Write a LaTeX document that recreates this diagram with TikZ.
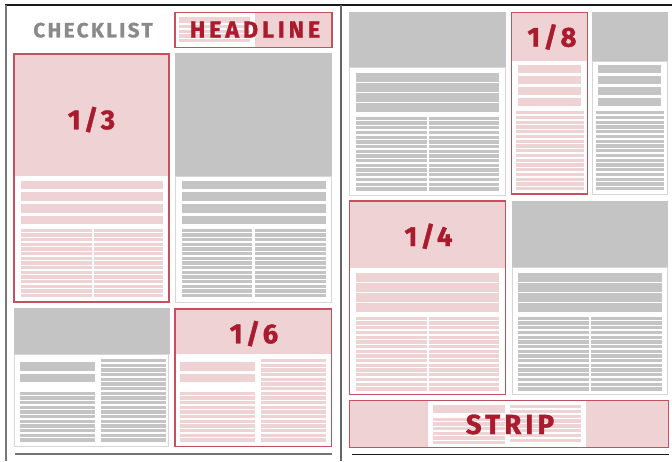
\documentclass[tikz,border=0pt]{standalone}
\usepackage{fontspec}
\newfontfamily\lblfont[FakeBold=1.2]{Fira Sans}
\definecolor{pinkf}{HTML}{EED2D4}
\definecolor{redt}{HTML}{A91B2D}
\definecolor{redb}{HTML}{C5505E}
\definecolor{grayf}{HTML}{C4C4C4}
\definecolor{grayb}{HTML}{D6D6D6}
\definecolor{grayt}{HTML}{8A8A8A}
\newcommand\txtlines[6]{% x1 x2 y1 period count color
  \foreach \i in {1,...,#5}{\fill[#6] (#1,{#3+(\i-1)*#4}) rectangle (#2,{#3+(\i-1)*#4+0.71*#4});}}
\newcommand\hdbars[6]{% x1 x2 y1 period height color (4 bars)
  \foreach \i in {1,...,4}{\fill[#6] (#1,{#3+(\i-1)*#4}) rectangle (#2,{#3+(\i-1)*#4+#5});}}
\tikzset{
  redframe/.style={draw=redb,line width=1.1pt},
  grayframe/.style={draw=grayb,line width=0.9pt,fill=white},
  biglbl/.style={anchor=base,inner sep=0pt,text=redt,font=\lblfont\bfseries\fontsize{27.6}{30}\selectfont\addfontfeature{LetterSpace=12}},
}
\begin{document}
\begin{tikzpicture}[x=1pt,y=-1pt]
\useasboundingbox (0,0) rectangle (672,461);
\fill[white] (0,0) rectangle (672,461);
% page frames
\draw[line width=1.4pt,black!90] (5,5) -- (672,5);
\draw[line width=2pt,gray!95!black] (6,5) -- (6,461);
\draw[line width=1.5pt,black!60] (341,5) -- (341,461);
\draw[line width=2pt,black!55] (15,453.7) -- (332,453.7);
\draw[line width=1.4pt,black!90] (352,454.7) -- (668.7,454.7);

% CHECKLIST
\node[anchor=base,inner sep=0pt,text=grayt,font=\lblfont\bfseries\fontsize{20.5}{22}\selectfont\addfontfeature{LetterSpace=12}] (checklist) at (93,37.3) {CHECKLIST};

% HEADLINE box
\fill[white] (175,12.5) rectangle (332,47.5);
\fill[pinkf] (179,16.5) rectangle (250,22.5);
\txtlines{179}{250}{25.2}{4.6}{4}{pinkf}
\fill[pinkf] (255,12.5) rectangle (332,47.5);
\draw[redframe] (175,12.5) rectangle (332,47.5);
\node[anchor=base,inner sep=0pt,text=redt,font=\lblfont\bfseries\fontsize{23.2}{25}\selectfont\addfontfeature{LetterSpace=17}] (headline) at (255,37.7) {HEADLINE};

% 1/3 module
\fill[pinkf] (14,54) rectangle (169,176);
\hdbars{21}{163}{180.7}{11.6}{8.6}{pinkf}
\txtlines{21}{92}{228.7}{4.67}{15}{pinkf}
\txtlines{94.3}{163}{228.7}{4.67}{15}{pinkf}
\draw[redframe] (14,54) rectangle (169,302);
\node[biglbl] (third) at (91.5,129.3) {1/3};

% gray module top right (left page)
\fill[grayf] (175,53.3) rectangle (332,176);
\draw[grayframe] (175.4,176) rectangle (331.6,302.3);
\hdbars{181.7}{325.7}{180.7}{11.6}{8.6}{grayf}
\txtlines{181.7}{252.3}{228.7}{4.67}{15}{grayf}
\txtlines{254.7}{325.7}{228.7}{4.67}{15}{grayf}

% bottom-left gray module
\fill[grayf] (14,308) rectangle (170,354);
\draw[grayframe] (14.4,354) rectangle (168.7,446.5);
\fill[grayf] (20,362) rectangle (95,370.7);
\fill[grayf] (20,373.7) rectangle (95,382.3);
\txtlines{20}{95}{391.7}{4.67}{11}{grayf}
\txtlines{100.7}{166}{359}{4.67}{18}{grayf}

% 1/6 module
\fill[pinkf] (175,309) rectangle (331.3,354);
\fill[pinkf] (180,362) rectangle (255.3,370.7);
\fill[pinkf] (180,373.7) rectangle (255.3,382.3);
\txtlines{180}{255.3}{391.7}{4.67}{11}{pinkf}
\txtlines{261}{326}{359}{4.67}{18}{pinkf}
\draw[redframe] (175,309) rectangle (331.3,446.5);
\node[biglbl] (sixth) at (254,343.3) {1/6};

% right page: module A
\fill[grayf] (349.3,12.3) rectangle (505.7,67.7);
\draw[grayframe] (349.7,67.7) rectangle (505.3,195);
\hdbars{356}{499}{72.7}{10.1}{9}{grayf}
\txtlines{356}{426.7}{116.7}{4.7}{16}{grayf}
\txtlines{428.7}{499}{116.7}{4.7}{16}{grayf}

% 1/8 module
\fill[pinkf] (511.7,12.7) rectangle (587.7,61);
\hdbars{517.7}{581}{65}{10.9}{8.3}{pinkf}
\txtlines{515.7}{584.3}{111}{4.75}{17}{pinkf}
\draw[redframe] (511.7,12.7) rectangle (587.7,194);
\node[biglbl] (eighth) at (552,46.7) {1/8};

% module C
\fill[grayf] (592,12.3) rectangle (668.3,61);
\draw[grayframe] (592.4,61) rectangle (667.9,194);
\hdbars{597.7}{661}{65}{10.9}{8.3}{grayf}
\txtlines{595.7}{664.3}{111}{4.75}{17}{grayf}

% 1/4 module
\fill[pinkf] (349.3,201) rectangle (505.7,267.7);
\hdbars{356}{499}{272.7}{10}{9}{pinkf}
\txtlines{356}{426.7}{316.7}{4.7}{16}{pinkf}
\txtlines{428.7}{499}{316.7}{4.7}{16}{pinkf}
\draw[redframe] (349.3,201) rectangle (505.7,394.3);
\node[biglbl] (quarter) at (428.5,246) {1/4};

% module D
\fill[grayf] (511.7,201) rectangle (668.3,267.7);
\draw[grayframe] (512.1,267.7) rectangle (667.9,394);
\hdbars{518.3}{661.7}{272.7}{10}{9}{grayf}
\txtlines{518.3}{589}{316.7}{4.7}{16}{grayf}
\txtlines{591}{661.7}{316.7}{4.7}{16}{grayf}

% STRIP
\fill[pinkf] (349.3,400.3) rectangle (668.3,447.5);
\fill[white] (428.3,401) rectangle (586,447);
\fill[pinkf] (433.3,405) rectangle (505,413.3);
\txtlines{433.3}{505}{417.7}{4.67}{6}{pinkf}
\txtlines{510}{581}{405}{4.8}{8}{pinkf}
\draw[redframe] (349.3,400.3) rectangle (668.3,447.5);
\node[biglbl,font=\lblfont\bfseries\fontsize{27.6}{30}\selectfont\addfontfeature{LetterSpace=15}] (strip) at (510,434) {STRIP};
\end{tikzpicture}
\end{document}
